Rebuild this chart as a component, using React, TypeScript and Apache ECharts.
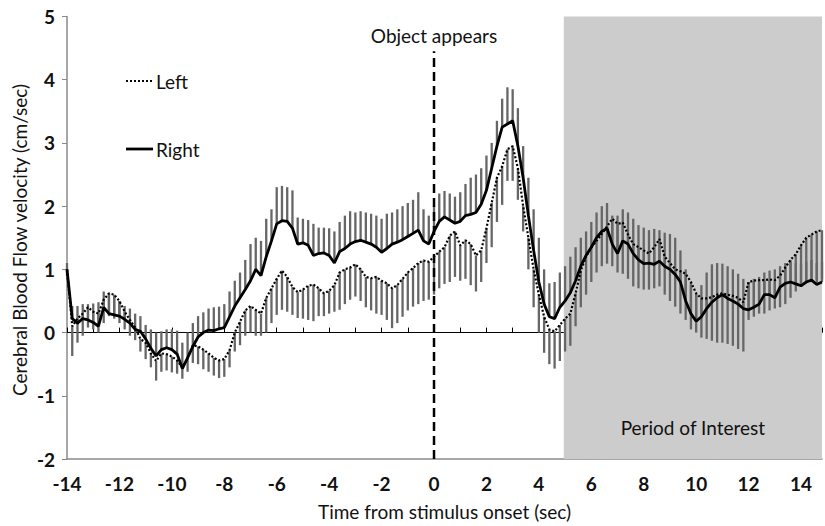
import React, { useEffect, useRef } from "react";
import * as echarts from "echarts";

// Time grid (sec from stimulus onset), one sample every 0.2 s from -14 to 14.8
const TIME_START = -14;
const TIME_STEP = 0.2;

// Mean cerebral blood flow velocity (cm/sec)
const rightMean = [
  1.0, 0.22, 0.15, 0.22, 0.2, 0.16, 0.1, 0.4, 0.3, 0.28,
  0.26, 0.21, 0.15, 0.05, 0.02, -0.1, -0.25, -0.37, -0.27, -0.24,
  -0.27, -0.34, -0.57, -0.4, -0.22, -0.07, 0.0, 0.04, 0.03, 0.06,
  0.08, 0.25, 0.42, 0.55, 0.68, 0.82, 1.0, 0.9, 1.2, 1.45,
  1.72, 1.77, 1.76, 1.65, 1.4, 1.42, 1.38, 1.22, 1.25, 1.26,
  1.22, 1.1, 1.28, 1.33, 1.4, 1.44, 1.46, 1.43, 1.4, 1.35,
  1.27, 1.33, 1.4, 1.43, 1.47, 1.52, 1.57, 1.62, 1.45, 1.4,
  1.6, 1.76, 1.83, 1.78, 1.73, 1.76, 1.85, 1.87, 1.9, 2.03,
  2.25, 2.6, 2.95, 3.25, 3.3, 3.35, 2.95, 2.45, 1.85, 1.3,
  0.8, 0.45, 0.25, 0.22, 0.4, 0.5, 0.63, 0.82, 1.05, 1.22,
  1.35, 1.5, 1.6, 1.65, 1.4, 1.25, 1.45, 1.4, 1.25, 1.15,
  1.09, 1.1, 1.08, 1.13, 1.05, 1.0, 0.92, 0.8, 0.5, 0.3,
  0.18, 0.25, 0.38, 0.48, 0.55, 0.6, 0.54, 0.5, 0.45, 0.38,
  0.36, 0.4, 0.45, 0.6, 0.6, 0.55, 0.72, 0.78, 0.8, 0.77,
  0.74, 0.8, 0.83, 0.76, 0.8,
];

// Top of the Right error bars (mean + error)
const rightUpper = [
  1.1, 0.42, 0.42, 0.45, 0.45, 0.46, 0.48, 0.65, 0.62, 0.58,
  0.5, 0.42, 0.38, 0.3, 0.26, 0.12, 0.05, 0.0, 0.02, 0.05,
  0.05, 0.03, -0.16, 0.0, 0.15, 0.26, 0.32, 0.38, 0.4, 0.41,
  0.45, 0.65, 0.82, 0.95, 1.15, 1.4, 1.5, 1.45, 1.8, 1.95,
  2.3, 2.32, 2.3, 2.25, 1.82, 1.8, 1.78, 1.72, 1.66, 1.66,
  1.65, 1.6, 1.75, 1.85, 1.92, 1.9, 1.92, 1.9, 1.88, 1.85,
  1.8, 1.88, 1.9, 1.95, 2.0, 2.05, 2.1, 2.22, 1.95, 1.85,
  2.0, 2.2, 2.24, 2.2, 2.15, 2.22, 2.35, 2.45, 2.5, 2.6,
  2.8, 3.0, 3.35, 3.7, 3.88, 3.85, 3.55, 2.95, 2.45, 1.95,
  1.5, 1.0, 0.78, 0.8, 0.95, 1.05, 1.2, 1.35, 1.5, 1.6,
  1.75, 1.9, 2.0, 2.05, 1.85, 1.85, 1.95, 1.9, 1.8, 1.7,
  1.66, 1.62, 1.64, 1.62, 1.58, 1.56, 1.5, 1.3, 1.0, 0.75,
  0.6, 0.75, 0.95, 1.08, 1.1, 1.09, 1.05, 1.0, 0.93, 0.85,
  0.8, 0.85, 0.88, 0.95, 0.98, 1.0, 1.05, 1.1, 1.12, 1.1,
  1.08, 1.12, 1.15, 1.1, 1.12,
];

const leftMean = [
  1.0, 0.1, 0.22, 0.3, 0.4, 0.33, 0.3, 0.52, 0.62, 0.6,
  0.5, 0.33, 0.2, 0.08, -0.1, -0.16, -0.33, -0.45, -0.33, -0.34,
  -0.38, -0.44, -0.55, -0.4, -0.2, -0.22, -0.27, -0.33, -0.4, -0.44,
  -0.42, -0.28, 0.0, 0.17, 0.35, 0.42, 0.36, 0.3, 0.55, 0.7,
  0.85, 0.98, 0.88, 0.72, 0.64, 0.68, 0.74, 0.76, 0.7, 0.62,
  0.66, 0.75, 0.95, 1.0, 1.03, 1.08, 1.0, 0.88, 0.86, 0.88,
  0.82, 0.78, 0.7, 0.75, 0.85, 0.95, 1.02, 1.1, 1.14, 1.12,
  1.2, 1.28, 1.35, 1.53, 1.6, 1.38, 1.46, 1.4, 1.22, 1.3,
  1.65, 2.05, 2.45, 2.63, 2.9, 2.95, 2.6, 2.0, 1.5, 1.0,
  0.6, 0.25, 0.05, 0.02, 0.12, 0.22, 0.3, 0.62, 0.98, 1.2,
  1.35, 1.45, 1.56, 1.68, 1.8, 1.72, 1.74, 1.55, 1.4, 1.35,
  1.3, 1.25, 1.35, 1.48, 1.2, 1.1, 1.0, 0.97, 0.93, 0.8,
  0.62, 0.54, 0.54, 0.56, 0.6, 0.62, 0.6, 0.58, 0.55, 0.48,
  0.8, 0.82, 0.83, 0.83, 0.84, 0.83, 0.9, 1.03, 1.15, 1.24,
  1.38, 1.5, 1.55, 1.6, 1.62,
];

// Bottom of the Left error bars (mean - error)
const leftLower = [
  0.9, -0.37, -0.16, -0.05, 0.08, 0.05, 0.0, 0.15, 0.26, 0.22,
  0.15, 0.05, -0.05, -0.12, -0.3, -0.42, -0.55, -0.76, -0.62, -0.6,
  -0.63, -0.65, -0.73, -0.62, -0.48, -0.5, -0.58, -0.62, -0.68, -0.72,
  -0.7, -0.55, -0.3, -0.2, -0.05, 0.0, -0.05, -0.05, 0.0, 0.15,
  0.28, 0.36, 0.33, 0.28, 0.23, 0.22, 0.2, 0.18, 0.26, 0.26,
  0.3, 0.33, 0.36, 0.45, 0.52, 0.57, 0.5, 0.4, 0.35, 0.3,
  0.28, 0.2, 0.07, 0.15, 0.25, 0.35, 0.41, 0.45, 0.5, 0.52,
  0.6, 0.7, 0.77, 0.8, 0.88, 0.82, 0.85, 0.75, 0.65, 0.8,
  1.1, 1.35, 1.75, 2.02, 2.4, 2.4, 2.1, 1.6, 1.0, 0.4,
  0.0, -0.32, -0.5, -0.57, -0.45, -0.3, -0.21, 0.1, 0.4, 0.6,
  0.8, 0.95, 1.05, 1.09, 1.05, 0.95, 0.93, 0.85, 0.73, 0.7,
  0.68, 0.68, 0.7, 0.73, 0.6, 0.5, 0.41, 0.3, 0.2, 0.05,
  0.0, -0.08, -0.1, -0.13, -0.16, -0.16, -0.18, -0.21, -0.26, -0.3,
  0.2, 0.25, 0.3, 0.3, 0.35, 0.38, 0.4, 0.45, 0.55, 0.65,
  0.73, 0.78, 0.8, 0.83, 0.85,
];

const X_MIN = -14;
const X_MAX = 14.8;
const Y_MIN = -2;
const Y_MAX = 5;
const STIMULUS_TIME = 0;
const OBJECT_LINE_TOP = 4.45;
const PERIOD_START = 4.95;

const FONT = "Lato, 'Open Sans', sans-serif";

export default function App() {
  const ref = useRef<HTMLDivElement>(null);

  useEffect(() => {
    document.body.style.margin = "0";
    if (!ref.current) return;
    const chart = echarts.init(ref.current, null, { renderer: "svg" });

    const times = rightMean.map((_, i) => +(TIME_START + i * TIME_STEP).toFixed(1));
    const rightLine = times.map((t, i) => [t, rightMean[i]]);
    const leftLine = times.map((t, i) => [t, leftMean[i]]);
    const rightBars = times.map((t, i) => [t, rightMean[i], rightUpper[i]]);
    const leftBars = times.map((t, i) => [t, leftMean[i], leftLower[i]]);

    const barRender = (params: any, api: any) => {
      const x = api.value(0);
      const p1 = api.coord([x, api.value(1)]);
      const p2 = api.coord([x, api.value(2)]);
      return {
        type: "line",
        shape: { x1: p1[0], y1: p1[1], x2: p2[0], y2: p2[1] },
        style: { stroke: "#666666", lineWidth: 2.3 },
      };
    };

    const option: any = {
      animation: false,
      textStyle: { fontFamily: FONT },
      grid: { left: 67, right: 0, top: 16.5, bottom: 62, containLabel: false },
      xAxis: [
        {
          type: "value",
          min: X_MIN,
          max: X_MAX,
          interval: 2,
          position: "bottom",
          axisLine: { show: true, onZero: false, lineStyle: { color: "#8a8a8a", width: 1.5 } },
          axisTick: { show: false },
          splitLine: { show: false },
          axisLabel: {
            margin: 15,
            fontFamily: FONT,
            fontSize: 19,
            fontWeight: "bold",
            color: "#111",
            formatter: (v: number) =>
              Math.abs(v - Math.round(v)) < 1e-6 && Math.round(v) % 2 === 0 ? String(Math.round(v)) : "",
          },
          name: "Time from stimulus onset (sec)",
          nameLocation: "middle",
          nameGap: 43,
          nameTextStyle: { fontFamily: FONT, fontSize: 19, color: "#111" },
        },
        {
          type: "value",
          min: X_MIN,
          max: X_MAX,
          interval: 1,
          position: "bottom",
          axisLine: { show: true, onZero: true, lineStyle: { color: "#000", width: 1 } },
          axisTick: { show: true, inside: true, length: 5, lineStyle: { color: "#000", width: 1 } },
          axisLabel: { show: false },
          splitLine: { show: false },
        },
      ],
      yAxis: {
        type: "value",
        min: Y_MIN,
        max: Y_MAX,
        interval: 1,
        position: "left",
        axisLine: { show: true, onZero: false, lineStyle: { color: "#8a8a8a", width: 1.5 } },
        axisTick: { show: true, length: 5, lineStyle: { color: "#8a8a8a" } },
        splitLine: { show: false },
        axisLabel: {
          margin: 12,
          fontFamily: FONT,
          fontSize: 19,
          fontWeight: "bold",
          color: "#111",
        },
      },
      series: [
        {
          type: "line",
          name: "period",
          data: [[PERIOD_START, Y_MIN]],
          symbol: "none",
          lineStyle: { opacity: 0 },
          z: 1,
          silent: true,
          markArea: {
            silent: true,
            itemStyle: { color: "#cccccc" },
            label: {
              show: true,
              position: "insideBottom",
              distance: 22,
              formatter: "Period of Interest",
              fontFamily: FONT,
              fontSize: 19,
              color: "#111",
            },
            data: [[{ coord: [PERIOD_START, Y_MIN] }, { coord: [X_MAX, Y_MAX] }]],
          },
        },
        {
          type: "custom",
          name: "Left error",
          renderItem: barRender,
          data: leftBars,
          encode: { x: 0, y: [1, 2] },
          z: 2,
          silent: true,
        },
        {
          type: "custom",
          name: "Right error",
          renderItem: barRender,
          data: rightBars,
          encode: { x: 0, y: [1, 2] },
          z: 2,
          silent: true,
        },
        {
          type: "line",
          name: "Left",
          data: leftLine,
          showSymbol: false,
          symbol: "none",
          lineStyle: { color: "#000", width: 2.2, type: [2, 2] },
          z: 3,
          silent: true,
        },
        {
          type: "line",
          name: "Right",
          data: rightLine,
          showSymbol: false,
          symbol: "none",
          lineStyle: { color: "#000", width: 2.8 },
          z: 4,
          silent: true,
        },
        {
          type: "line",
          name: "Object appears",
          data: [
            [STIMULUS_TIME, Y_MIN],
            [STIMULUS_TIME, OBJECT_LINE_TOP],
          ],
          showSymbol: false,
          symbol: "none",
          lineStyle: { color: "#000", width: 2.5, type: [9, 5] },
          z: 5,
          silent: true,
          markPoint: {
            silent: true,
            symbol: "circle",
            symbolSize: 0,
            label: {
              show: true,
              position: "top",
              distance: 6,
              formatter: "Object appears",
              fontFamily: FONT,
              fontSize: 19,
              color: "#111",
            },
            data: [{ coord: [STIMULUS_TIME, OBJECT_LINE_TOP] }],
          },
        },
      ],
      graphic: [
        {
          type: "line",
          shape: { x1: 126, y1: 81, x2: 152, y2: 81 },
          style: { stroke: "#000", lineWidth: 2, lineDash: [2, 2] },
        },
        {
          type: "text",
          x: 156,
          y: 81,
          style: { text: "Left", font: `19px ${FONT}`, fill: "#111", verticalAlign: "middle", align: "left" },
        },
        {
          type: "line",
          shape: { x1: 126, y1: 149, x2: 153, y2: 149 },
          style: { stroke: "#000", lineWidth: 2.8 },
        },
        {
          type: "text",
          x: 156,
          y: 149,
          style: { text: "Right", font: `19px ${FONT}`, fill: "#111", verticalAlign: "middle", align: "left" },
        },
        {
          type: "text",
          x: 19,
          y: 240,
          rotation: Math.PI / 2,
          style: {
            text: "Cerebral Blood Flow velocity (cm/sec)",
            font: `19px ${FONT}`,
            fill: "#111",
            align: "center",
            verticalAlign: "middle",
          },
        },
      ],
    };

    chart.setOption(option);
    return () => chart.dispose();
  }, []);

  return <div ref={ref} style={{ width: 825, height: 526 }} />;
}
